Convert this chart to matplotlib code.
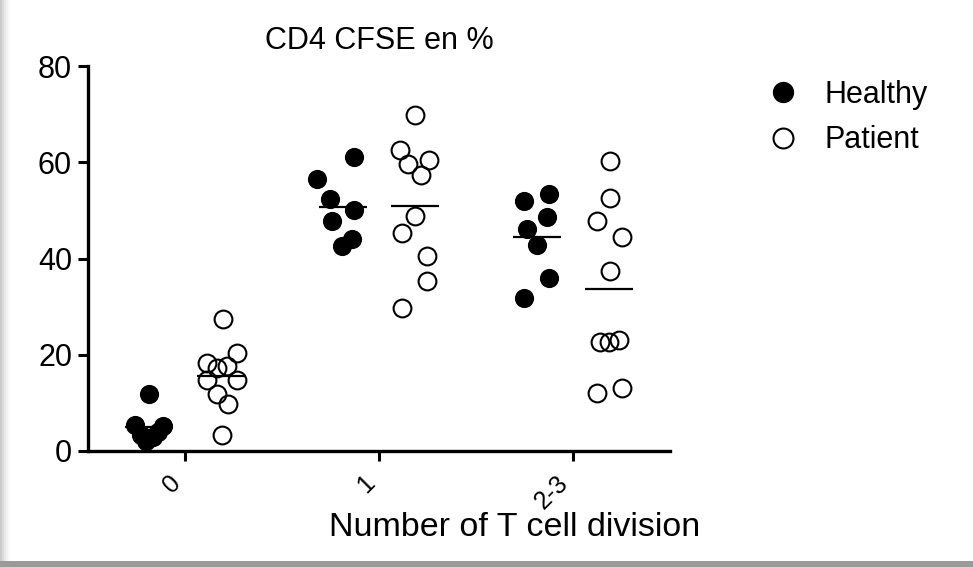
import matplotlib
matplotlib.use("Agg")
import matplotlib.pyplot as plt
from matplotlib.patches import Rectangle
from matplotlib.lines import Line2D
import matplotlib.transforms as mtransforms
import numpy as np

plt.rcParams['font.family'] = ['Liberation Sans', 'DejaVu Sans']

# ---- data ----
categories = ["0", "1", "2-3"]
healthy_0 = [11.8, 5.3, 5.2, 4.0, 3.4, 3.0, 2.1]
healthy_1 = [61.1, 56.5, 52.4, 50.1, 47.8, 44.1, 42.6]
healthy_2 = [53.4, 52.0, 48.7, 46.2, 42.9, 36.0, 31.7]
patient_0 = [27.5, 20.3, 18.2, 17.6, 17.2, 14.7, 14.7, 11.8, 9.7, 3.3]
patient_1 = [69.8, 62.5, 60.5, 59.6, 57.3, 48.9, 45.3, 40.6, 35.4, 29.8]
patient_2 = [60.2, 52.6, 47.8, 44.5, 37.5, 22.6, 22.6, 23.0, 12.0, 13.0]

# scatter jitter (category units)
jit_h0 = [-0.186, -0.258, -0.113, -0.139, -0.227, -0.165, -0.201]
jit_h1 = [-0.129, -0.320, -0.253, -0.129, -0.242, -0.139, -0.191]
jit_h2 = [-0.124, -0.253, -0.134, -0.237, -0.186, -0.124, -0.253]
jit_p0 = [0.196, 0.268, 0.113, 0.216, 0.165, 0.113, 0.268, 0.165, 0.222, 0.191]
jit_p1 = [0.186, 0.108, 0.258, 0.149, 0.216, 0.186, 0.119, 0.247, 0.247, 0.119]
jit_p2 = [0.191, 0.191, 0.124, 0.253, 0.191, 0.139, 0.186, 0.237, 0.124, 0.253]

healthy = [healthy_0, healthy_1, healthy_2]
patient = [patient_0, patient_1, patient_2]
jit_h = [jit_h0, jit_h1, jit_h2]
jit_p = [jit_p0, jit_p1, jit_p2]

W, H = 973, 567
fig = plt.figure(figsize=(W / 100, H / 100), dpi=100)

# frame shadow (left gradient, bottom bar)
for i, g in enumerate([0.80, 0.86, 0.91, 0.95, 0.98]):
    fig.patches.append(Rectangle((i * 2 / W, 0), 2 / W, 1, transform=fig.transFigure,
                                 facecolor=str(g), edgecolor='none', zorder=0))
fig.patches.append(Rectangle((0, 0), 1, 6 / H, transform=fig.transFigure,
                             facecolor='#9a9a9a', edgecolor='none', zorder=0))

ax = fig.add_axes([88 / W, 1 - 451 / H, 582 / W, 385 / H])
ax.set_facecolor('none')

ms = 12.8
off_h, off_p, half = -0.185, 0.185, 0.125
for i in range(3):
    xs = i + np.array(jit_h[i])
    ax.plot(xs, healthy[i], 'o', ms=ms, mfc='black', mec='black', mew=1.0,
            linestyle='none', clip_on=False, zorder=3)
    xs = i + np.array(jit_p[i])
    ax.plot(xs, patient[i], 'o', ms=ms, mfc='none', mec='black', mew=1.5,
            linestyle='none', clip_on=False, zorder=3)
    mh = np.mean(healthy[i])
    mp = np.mean(patient[i])
    ax.hlines(mh, i + off_h - half, i + off_h + half, color='black', lw=1.6, zorder=4)
    ax.hlines(mp, i + off_p - half, i + off_p + half, color='black', lw=1.6, zorder=4)

ax.set_xlim(-0.5, 2.5)
ax.set_ylim(0, 80)
ax.set_yticks([0, 20, 40, 60, 80])
ax.set_xticks(range(3))
ax.set_xticklabels(categories, rotation=45, ha='right', fontsize=18)
shift = mtransforms.ScaledTranslation(4 / 100, 0, fig.dpi_scale_trans)
for lab in ax.get_xticklabels():
    lab.set_transform(lab.get_transform() + shift)
ax.tick_params(axis='y', labelsize=22, length=7.5, width=2.2, pad=4, direction='out')
ax.tick_params(axis='x', length=7.5, width=2.2, pad=7, direction='out')
for s in ['top', 'right']:
    ax.spines[s].set_visible(False)
for s in ['left', 'bottom']:
    ax.spines[s].set_linewidth(2.4)

ax.set_title("CD4 CFSE en %", fontsize=22, pad=12)
ax.set_xlabel("Number of T cell division", fontsize=24.5)
ax.xaxis.set_label_coords(0.733, -0.158)

handles = [Line2D([], [], marker='o', ms=ms, mfc='black', mec='black', linestyle='none'),
           Line2D([], [], marker='o', ms=ms, mfc='none', mec='black', mew=1.5, linestyle='none')]
fig.legend(handles, ["Healthy", "Patient"], loc='upper left',
           bbox_to_anchor=(752 / W, 1 - 80 / H), frameon=False, fontsize=22,
           handletextpad=0.38, labelspacing=0.5, borderpad=0, borderaxespad=0,
           markerscale=1.12)

fig.savefig("out.png", dpi=100)
